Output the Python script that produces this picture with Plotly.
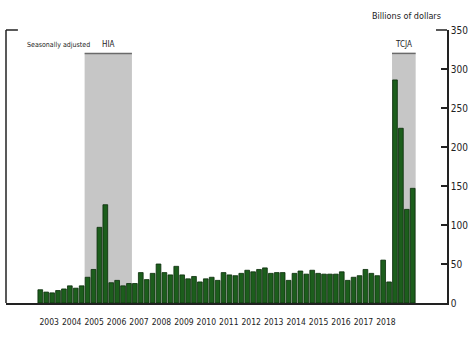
import plotly.graph_objects as go

# Quarterly values, 2003Q1 .. 2018Q4, billions of dollars (seasonally adjusted)
values = [17, 14, 13, 16, 18, 22, 19, 22,
          33, 43, 97, 126, 26, 29, 22, 25,
          25, 39, 30, 38, 50, 39, 36, 47,
          36, 31, 34, 27, 31, 33, 29, 39,
          36, 35, 38, 42, 40, 43, 45, 38,
          39, 39, 29, 38, 41, 37, 42, 38,
          37, 37, 37, 40, 29, 33, 35, 43,
          38, 35, 55, 27, 286, 224, 120, 147]
years = [str(y) for y in range(2003, 2019)]
y_ticks = [0, 50, 100, 150, 200, 250, 300, 350]
shaded = [("HIA", 8, 15), ("TCJA", 60, 63)]  # first and last quarter index

xs = list(range(len(values)))
FONT = "DejaVu Sans Condensed"

fig = go.Figure()
fig.add_trace(go.Bar(
    x=xs, y=values, width=0.8,
    marker=dict(color="#1c5e1c", line=dict(color="#0a2c0a", width=0.8)),
    hoverinfo="skip"))

for label, a, b in shaded:
    fig.add_shape(type="rect", xref="x", yref="y", x0=a - 0.5, x1=b + 0.5,
                  y0=0, y1=320, fillcolor="#c6c6c6", line=dict(width=0),
                  layer="below")
    fig.add_shape(type="line", xref="x", yref="y", x0=a - 0.5, x1=b + 0.5,
                  y0=320, y1=320, line=dict(color="#6a6a6a", width=1.5))
    fig.add_annotation(x=(a + b) / 2, y=320, xref="x", yref="y", text=label,
                       showarrow=False, yanchor="bottom", yshift=2,
                       font=dict(family=FONT, size=8, color="#222"))

# frame pieces: left full line, top corner stubs
fig.add_shape(type="line", xref="paper", yref="paper", x0=0, x1=0, y0=0, y1=1,
              line=dict(color="#222", width=1.5))
fig.add_shape(type="line", xref="paper", yref="paper", x0=0, x1=0.027, y0=1, y1=1,
              line=dict(color="#222", width=1.5))
fig.add_shape(type="line", xref="paper", yref="paper", x0=0.975, x1=1, y0=1, y1=1,
              line=dict(color="#222", width=1.5))

fig.add_annotation(x=0.043, y=320, xref="paper", yref="y", text="Seasonally adjusted",
                   showarrow=False, xanchor="left", yanchor="bottom", yshift=2,
                   font=dict(family=FONT, size=7, color="#222"))
fig.add_annotation(x=1.0 + (447 - 451) / 445.0, y=1.0 + (30 - 16) / 273.0,
                   xref="paper", yref="paper", text="Billions of dollars",
                   showarrow=False, xanchor="right", yanchor="middle",
                   font=dict(family=FONT, size=9, color="#222"))

tickvals = [1.51 + 3.797 * k for k in range(len(years))]

fig.update_layout(
    width=474, height=338,
    margin=dict(l=6, r=23, t=30, b=35),
    paper_bgcolor="white", plot_bgcolor="white",
    showlegend=False,
    xaxis=dict(range=[-5.8, 68.8], tickmode="array", tickvals=tickvals,
               ticktext=years, ticks="", showgrid=False, zeroline=False,
               tickangle=0, ticklabelstandoff=10,
               showline=True, linecolor="#222", linewidth=1.5,
               tickfont=dict(family=FONT, size=8.5, color="#222")),
    yaxis=dict(range=[0, 350], side="right", tickvals=y_ticks,
               ticks="inside", ticklen=6, tickwidth=1.5, tickcolor="#222",
               showgrid=False, zeroline=False, showline=True,
               linecolor="#222", linewidth=1.5,
               tickfont=dict(family=FONT, size=10, color="#222")),
)

fig.write_html("out.html")
